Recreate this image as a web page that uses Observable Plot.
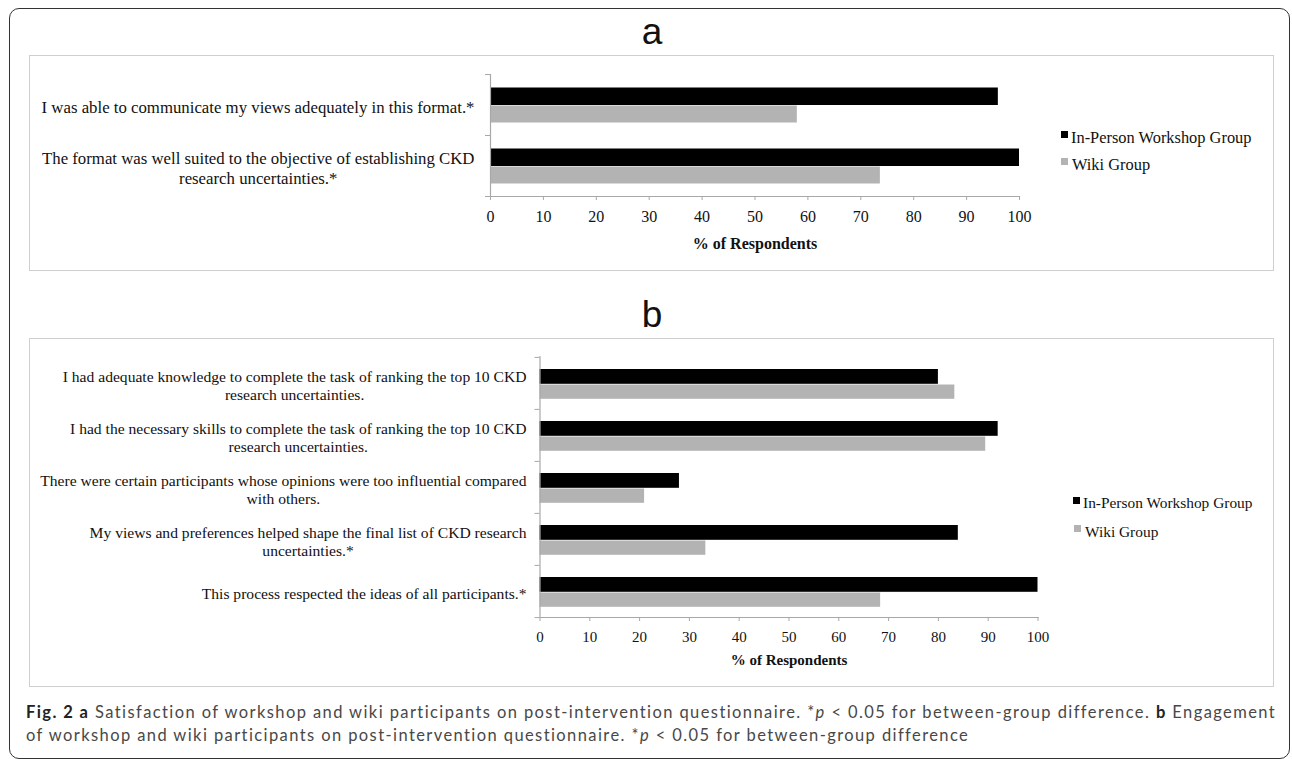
<!DOCTYPE html>
<html>
<head>
<meta charset="utf-8">
<script src="https://cdn.jsdelivr.net/npm/d3@7"></script>
<script src="https://cdn.jsdelivr.net/npm/@observablehq/plot@0.6"></script>
<style>
  html, body { margin: 0; padding: 0; background: #fff; }
  #page { position: relative; width: 1292px; height: 759px; overflow: hidden; background: #fff; }
  .abs { position: absolute; }
  #frame { left: 9px; top: 8px; width: 1281px; height: 751px; border: 1.5px solid #333; border-radius: 10px; box-sizing: border-box; }
  .box { border: 1.5px solid #cfcfcf; box-sizing: border-box; }
  .ptitle { font-family: "Liberation Sans", Arial, sans-serif; font-size: 37px; line-height: 37px; color: #111; transform: translateX(-50%); }
  .leg { font-family: "Liberation Serif", "Times New Roman", serif; color: #111; white-space: nowrap; }
  .sw { position: absolute; }
  #caption { left: 26px; top: 701px; font-family: Lato, "DejaVu Sans Condensed", sans-serif; font-size: 16.5px; line-height: 23px; color: #484848; white-space: nowrap; }
  #caption b { color: #222; }
  #cap1 { display: inline-block; }
  g[aria-label="x-axis label"] text { font-weight: bold; }
</style>
</head>
<body>
<div id="page">
  <div id="frame" class="abs"></div>
  <div class="abs ptitle" style="left:652px; top:13px;">a</div>
  <div class="abs ptitle" style="left:652px; top:296px;">b</div>
  <div class="abs box" style="left:29px; top:55px; width:1245px; height:216px;"></div>
  <div class="abs box" style="left:29px; top:338px; width:1245px; height:349px;"></div>
  <div id="plotA" class="abs" style="left:29px; top:55px;"></div>
  <div id="plotB" class="abs" style="left:29px; top:338px;"></div>
  <div id="legA"></div>
  <div id="legB"></div>
  <div id="caption" class="abs"><span id="cap1"><b>Fig. 2 a</b> Satisfaction of workshop and wiki participants on post-intervention questionnaire. *<i>p</i> &lt; 0.05 for between-group difference. <b>b</b> Engagement</span><br>of workshop and wiki participants on post-intervention questionnaire. *<i>p</i> &lt; 0.05 for between-group difference</div>
</div>
<script>
// ---- data ----
const groups = ["In-Person Workshop Group", "Wiki Group"];
const groupColors = ["#000000", "#b3b3b3"];
const xTicks = [0, 10, 20, 30, 40, 50, 60, 70, 80, 90, 100];
const axisTitle = "% of Respondents";

const questionsA = [
  "I was able to communicate my views adequately in this format.*",
  "The format was well suited to the objective of establishing CKD\nresearch uncertainties.*"
];
const workshopA = [96, 100];
const wikiA = [58, 73.7];

const questionsB = [
  "I had adequate knowledge to complete the task of ranking the top 10 CKD\nresearch uncertainties.",
  "I had the necessary skills to complete the task of ranking the top 10 CKD\nresearch uncertainties.",
  "There were certain participants whose opinions were too influential compared\nwith others.",
  "My views and preferences helped shape the final list of CKD research\nuncertainties.*",
  "This process respected the ideas of all participants.*"
];
const workshopB = [80, 92, 28, 84, 100];
const wikiB = [83.3, 89.5, 21, 33.3, 68.4];

// ---- drawing ----
function panel(questions, workshop, wiki, cfg) {
  const rows = questions.flatMap((q, i) => [
    {q, group: groups[0], value: workshop[i]},
    {q, group: groups[1], value: wiki[i]}
  ]);
  const band = (cfg.height - cfg.mt - cfg.mb) / questions.length;
  const gray = "#a8a8a8";
  return Plot.plot({
    width: cfg.width, height: cfg.height,
    marginLeft: cfg.ml, marginRight: cfg.mr, marginTop: cfg.mt, marginBottom: cfg.mb,
    style: {fontFamily: "'Liberation Serif', 'Times New Roman', serif", fontSize: cfg.fs + "px", color: "#111", background: "transparent", overflow: "visible"},
    x: {domain: [0, 100], label: axisTitle, labelArrow: "none"},
    y: {domain: questions, padding: 0, label: null},
    marks: [
      Plot.barX(rows.filter(d => d.group === groups[0]), {x: "value", y: "q", fill: groupColors[0], insetTop: cfg.bTop, insetBottom: band - cfg.bTop - cfg.bH}),
      Plot.barX(rows.filter(d => d.group === groups[1]), {x: "value", y: "q", fill: groupColors[1], insetTop: cfg.gTop, insetBottom: band - cfg.gTop - cfg.gH}),
      Plot.ruleX([0], {stroke: gray, strokeWidth: 1.2}),
      Plot.frame({anchor: "bottom", stroke: gray, strokeWidth: 1.2}),
      Plot.axisY({tickSize: 5, tickFormat: () => "", label: null, stroke: gray, dy: -band / 2}),
      Plot.axisY({ticks: [questions[questions.length - 1]], tickSize: 5, tickFormat: () => "", label: null, stroke: gray, dy: band / 2}),
      Plot.axisX({ticks: xTicks, tickSize: 4, tickPadding: cfg.tp, stroke: gray, fill: "#111", fontSize: cfg.tfs,
                  label: axisTitle, labelAnchor: "center", labelOffset: cfg.lo, labelArrow: "none"}),
      Plot.text(questions, {y: d => d, text: d => d, frameAnchor: "left", textAnchor: "end", dx: cfg.ldx, dy: cfg.ldy,
                            lineAnchor: "middle", lineHeight: cfg.lh, fontSize: cfg.fs, fill: "#111"})
    ]
  });
}

function centerLines(svg) {
  svg.querySelectorAll("g[aria-label='text'] text").forEach(t => {
    const spans = t.querySelectorAll("tspan");
    if (spans.length < 2) return;
    let w = 0;
    spans.forEach(s => { w = Math.max(w, s.getComputedTextLength()); });
    t.setAttribute("text-anchor", "middle");
    spans.forEach(s => s.setAttribute("x", -w / 2));
  });
}

function legend(container, cfg) {
  groups.forEach((g, i) => {
    const sw = document.createElement("div");
    sw.className = "sw";
    Object.assign(sw.style, {left: cfg.sx[i] + "px", top: cfg.sy[i] + "px", width: cfg.ss + "px", height: cfg.ss + "px", background: groupColors[i]});
    const tx = document.createElement("div");
    tx.className = "abs leg";
    tx.textContent = g;
    Object.assign(tx.style, {left: cfg.tx[i] + "px", top: cfg.ty[i] + "px", fontSize: cfg.fs + "px", lineHeight: cfg.fs + "px"});
    container.appendChild(sw);
    container.appendChild(tx);
  });
}

const cfgA = {width: 1245, height: 216, ml: 461, mr: 255, mt: 19, mb: 75, fs: 16.8, tfs: 16, tp: 10, lo: 52,
              bTop: 13.5, bH: 17.5, gTop: 31.5, gH: 17, ldx: -16, ldy: 2, lh: 1.19};
const cfgB = {width: 1245, height: 349, ml: 510.5, mr: 236.5, mt: 18, mb: 70, fs: 15.6, tfs: 15, tp: 10, lo: 47,
              bTop: 12, bH: 15, gTop: 27.5, gH: 14.5, ldx: -13.5, ldy: 2, lh: 1.15};

const pa = panel(questionsA, workshopA, wikiA, cfgA);
document.getElementById("plotA").appendChild(pa);
centerLines(pa);
const pb = panel(questionsB, workshopB, wikiB, cfgB);
document.getElementById("plotB").appendChild(pb);
centerLines(pb);

legend(document.getElementById("legA"), {sx: [1061, 1061], sy: [131, 158], ss: 7, tx: [1071, 1072], ty: [129.5, 156.5], fs: 16.4});
legend(document.getElementById("legB"), {sx: [1073, 1074], sy: [497, 525], ss: 7, tx: [1083, 1085], ty: [495, 524], fs: 15.4});

// fit the caption's first line to the figure width with a small letter spacing
const cap = document.getElementById("caption");
const cap1 = document.getElementById("cap1");
const w1 = cap1.getBoundingClientRect().width;
cap.style.letterSpacing = ((1251 - w1) / cap1.textContent.length).toFixed(3) + "px";
</script>
</body>
</html>
